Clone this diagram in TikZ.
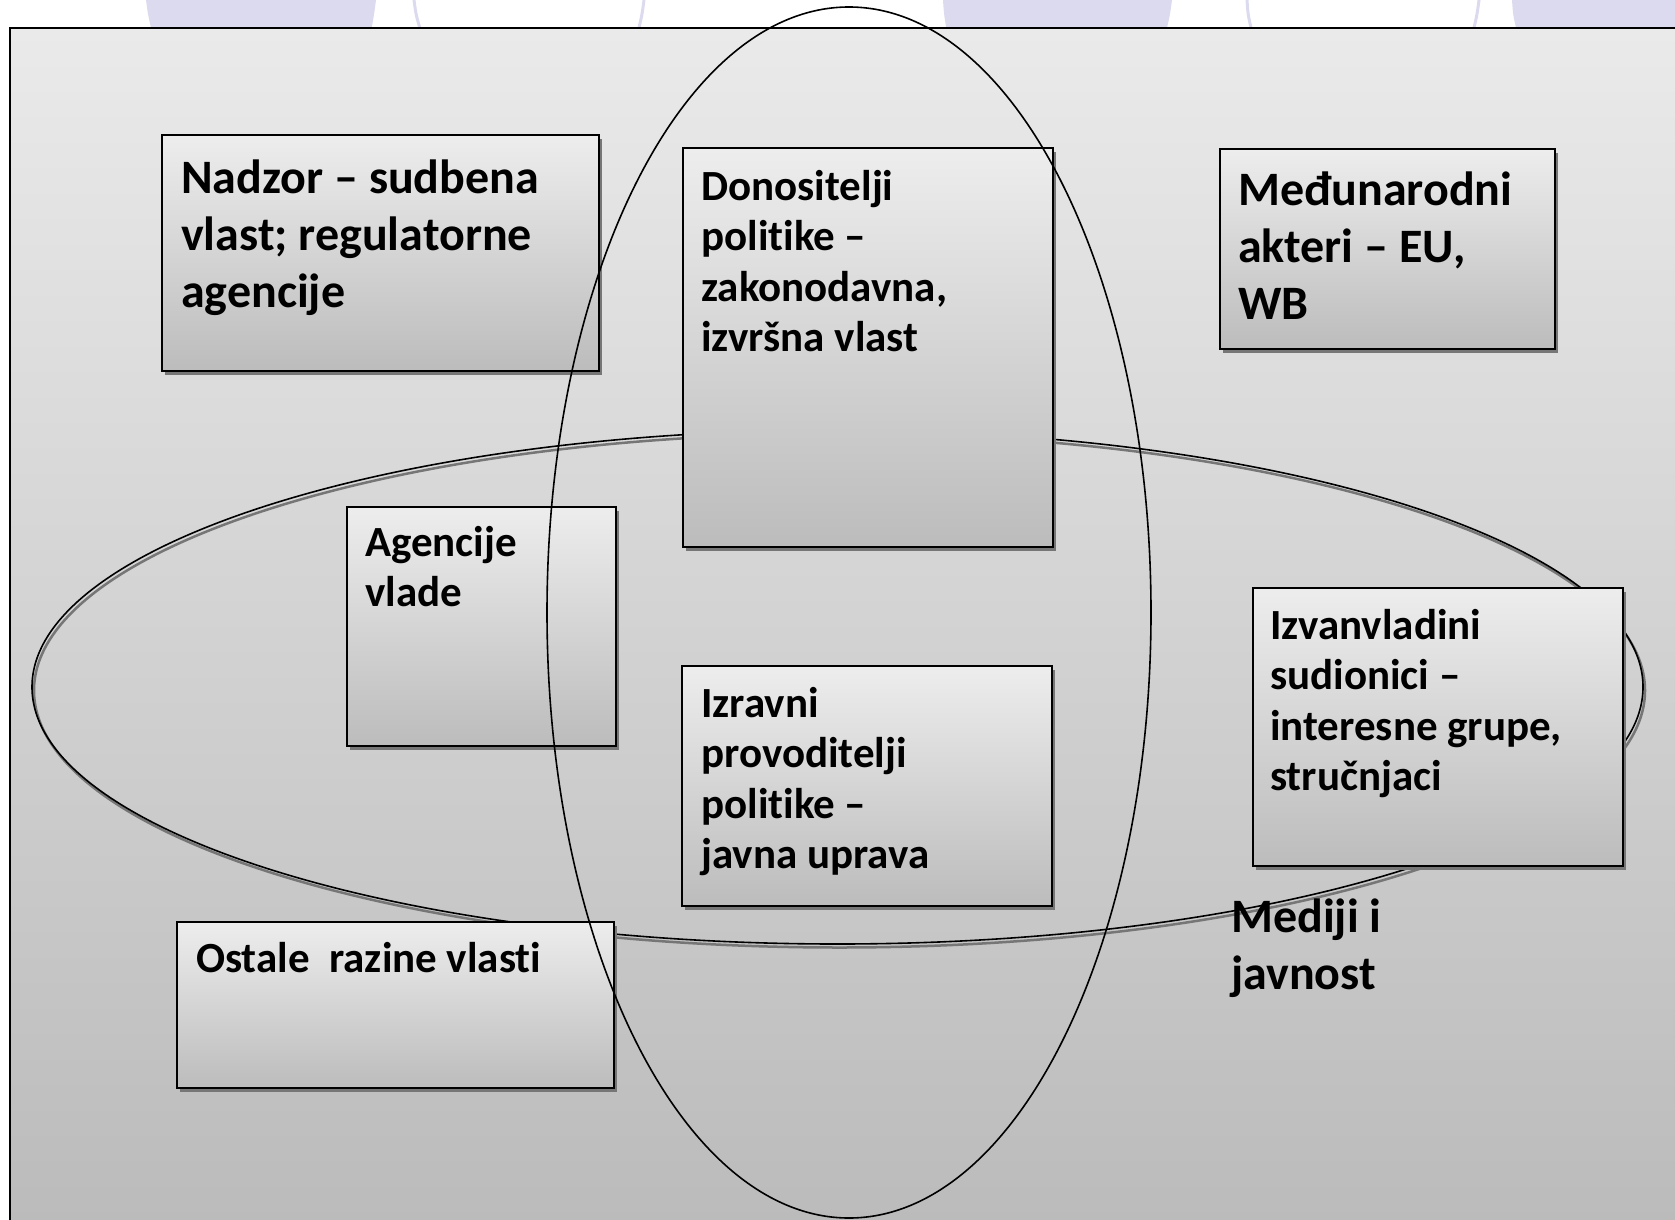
\documentclass[tikz,border=0pt]{standalone}
\usepackage{fontspec}
\setmainfont{Carlito}[Ligatures=NoCommon]
\usetikzlibrary{shadows}
\definecolor{lav}{RGB}{220,218,238}
\definecolor{bgtop}{RGB}{234,234,234}
\definecolor{bgbot}{RGB}{186,186,186}
\definecolor{boxtop}{RGB}{237,237,237}
\definecolor{boxbot}{RGB}{188,188,188}
\definecolor{shad}{RGB}{118,118,118}
\tikzset{
  boxshape/.style={draw=black, line width=2pt, top color=boxtop, bottom color=boxbot,
    anchor=north west, inner sep=0pt,
    drop shadow={shadow xshift=3pt, shadow yshift=-4pt, fill=shad, opacity=1}},
  bigtxt/.style={anchor=base west, inner sep=0pt, font=\bfseries\fontsize{48}{57}\selectfont},
  midtxt/.style={anchor=base west, inner sep=0pt, font=\bfseries\fontsize{43}{50.5}\selectfont},
  ring/.style={draw=black, line width=1.6pt},
  lavline/.style={draw=lav, line width=3pt},
}
\begin{document}
\begin{tikzpicture}[x=1pt,y=-1pt]
\useasboundingbox (0,0) rectangle (1675,1220);
\clip (0,0) rectangle (1675,1220);
% lavender decoration at the top
\fill[lav] (146,0) .. controls (148,15) .. (152,32) -- (371,32) .. controls (374,15) .. (376,0) -- cycle;
\fill[lav] (943,0) .. controls (944,15) .. (947,32) -- (1166,32) .. controls (1170,15) .. (1172,0) -- cycle;
\fill[lav] (1512,0) .. controls (1513,15) .. (1517,32) -- (1680,32) -- (1680,0) -- cycle;
\draw[lavline] (414,0) .. controls (416,15) .. (421,32);
\draw[lavline] (644,0) .. controls (642,15) .. (638,32);
\draw[lavline] (1247,0) .. controls (1248,15) .. (1252,32);
\draw[lavline] (1479,0) .. controls (1477,15) .. (1473,32);
% background panel
\draw[line width=2.2pt, top color=bgtop, bottom color=bgbot] (10,28) rectangle (1700,1250);
% horizontal ellipse with shadow
\draw[draw=shad, line width=2.5pt] (839.5,690.5) ellipse [x radius=805.5, y radius=257];
\draw[ring] (837.5,687) ellipse [x radius=805.5, y radius=257];
% boxes
\node[boxshape, minimum width=437pt, minimum height=236pt] (nadzor) at (161,134) {};
\node[boxshape, minimum width=370pt, minimum height=399pt] (donos) at (682,147) {};
\node[boxshape, minimum width=335pt, minimum height=200pt] (medju) at (1219,148) {};
\node[boxshape, minimum width=269pt, minimum height=239pt] (agenc) at (346,506) {};
\node[boxshape, minimum width=370pt, minimum height=240pt] (izrav) at (681,665) {};
\node[boxshape, minimum width=370pt, minimum height=278pt] (izvan) at (1252,587) {};
\node[boxshape, minimum width=437pt, minimum height=166pt] (ostal) at (176,921) {};
% vertical ellipse
\draw[ring] (849,612.5) ellipse [x radius=302, y radius=605.5];
% texts
\node[bigtxt] (tnadzor) at (181,193) {\parbox[t]{600pt}{Nadzor – sudbena\\vlast; regulatorne\\agencije}};
\node[midtxt] (tdonos) at (701,200) {\parbox[t]{600pt}{Donositelji\\politike –\\zakonodavna,\\izvršna vlast}};
\node[bigtxt] (tmedju) at (1238,205) {\parbox[t]{600pt}{Međunarodni\\akteri – EU,\\WB}};
\node[midtxt] (tagenc) at (365,556) {\parbox[t]{600pt}{Agencije\\vlade}};
\node[midtxt] (tizrav) at (701,717) {\parbox[t]{600pt}{Izravni\\provoditelji\\politike –\\javna uprava}};
\node[midtxt] (tizvan) at (1270,639) {\parbox[t]{600pt}{Izvanvladini\\sudionici –\\interesne grupe,\\stručnjaci}};
\node[midtxt] (tostal) at (196,972) {Ostale\ \ razine vlasti};
\node[bigtxt] (tmedij) at (1231,932) {\parbox[t]{600pt}{Mediji i\\javnost}};
\end{tikzpicture}
\end{document}
